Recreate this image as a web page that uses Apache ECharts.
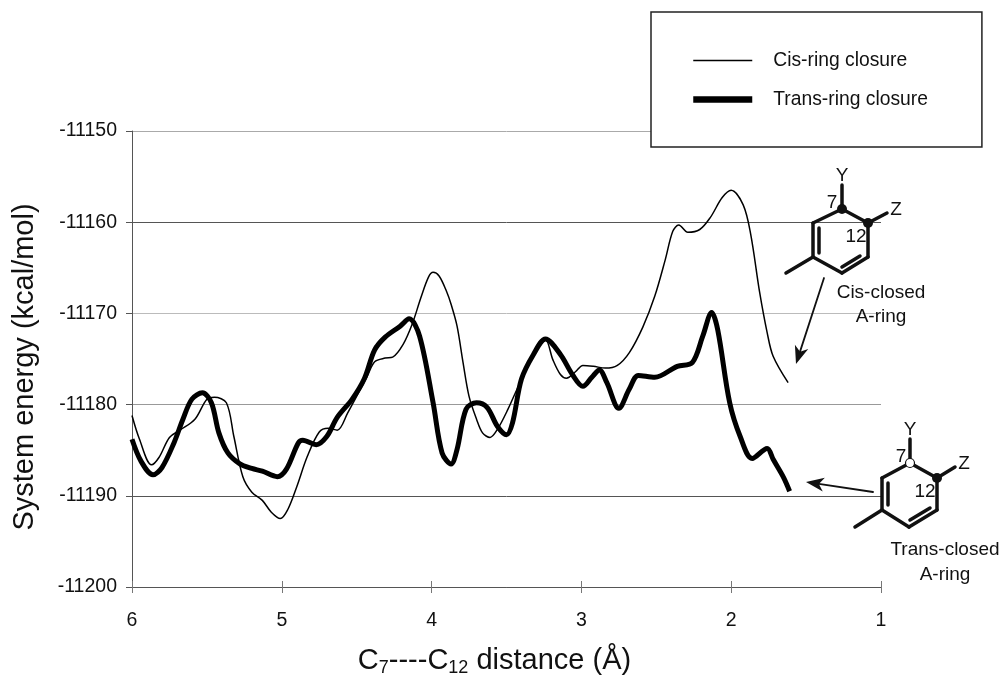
<!DOCTYPE html>
<html><head><meta charset="utf-8">
<style>html,body{margin:0;padding:0;background:#fff}#c{width:1004px;height:677px}</style>
<script src="https://cdn.jsdelivr.net/npm/echarts@6/dist/echarts.min.js"></script>
</head><body><div id="c"></div>
<script>
const seriesNames = ['Cis-ring closure', 'Trans-ring closure'];
const cisDistance = [6.00,5.95,5.87,5.82,5.75,5.68,5.58,5.50,5.45,5.37,5.32,5.26,5.20,5.13,5.07,5.01,4.96,4.90,4.83,4.75,4.69,4.63,4.56,4.43,4.38,4.31,4.26,4.19,4.13,4.07,4.02,3.99,3.95,3.90,3.87,3.83,3.79,3.75,3.70,3.66,3.61,3.56,3.49,3.41,3.32,3.24,3.19,3.14,3.10,3.04,2.99,2.92,2.84,2.76,2.68,2.59,2.51,2.44,2.39,2.35,2.29,2.21,2.14,2.06,2.00,1.92,1.87,1.81,1.76,1.72,1.62];
const cisEnergy = [-11181.2,-11183.8,-11186.6,-11185.8,-11183.6,-11182.8,-11181.6,-11179.4,-11179.2,-11179.8,-11183.5,-11187.9,-11189.6,-11190.5,-11191.8,-11192.5,-11191.5,-11189.0,-11185.7,-11183.0,-11182.6,-11182.8,-11180.9,-11176.9,-11175.3,-11174.9,-11174.8,-11173.4,-11171.2,-11168.2,-11166.0,-11165.5,-11165.9,-11167.6,-11169.0,-11171.4,-11175.4,-11179.1,-11181.6,-11183.1,-11183.6,-11182.7,-11180.5,-11177.6,-11174.7,-11172.9,-11175.1,-11176.7,-11177.1,-11176.4,-11175.7,-11175.8,-11176.0,-11175.7,-11174.3,-11171.5,-11168.1,-11164.1,-11161.0,-11160.3,-11161.1,-11160.8,-11159.5,-11157.3,-11156.5,-11158.1,-11161.3,-11167.7,-11172.1,-11174.7,-11177.6];
const transDistance = [6.00,5.94,5.86,5.80,5.72,5.66,5.60,5.53,5.47,5.42,5.36,5.28,5.20,5.13,5.03,4.97,4.89,4.86,4.77,4.70,4.63,4.53,4.45,4.38,4.31,4.21,4.15,4.08,3.99,3.93,3.87,3.83,3.77,3.70,3.63,3.56,3.50,3.46,3.40,3.32,3.24,3.14,3.06,2.99,2.93,2.88,2.83,2.75,2.68,2.62,2.51,2.36,2.26,2.19,2.13,2.09,2.01,1.94,1.86,1.76,1.72,1.65,1.61];
const transEnergy = [-11183.8,-11186.2,-11187.7,-11186.9,-11184.2,-11181.6,-11179.4,-11178.7,-11179.8,-11183.1,-11185.3,-11186.5,-11187.0,-11187.3,-11187.9,-11187.1,-11184.2,-11183.9,-11184.4,-11183.5,-11181.4,-11179.4,-11177.2,-11174.0,-11172.6,-11171.4,-11170.6,-11172.5,-11179.8,-11185.3,-11186.5,-11184.9,-11180.5,-11179.8,-11180.3,-11182.4,-11183.3,-11182.0,-11177.2,-11174.5,-11172.8,-11174.5,-11176.7,-11178.0,-11177.0,-11176.2,-11177.6,-11180.4,-11178.3,-11176.8,-11177.0,-11175.8,-11175.4,-11172.5,-11169.9,-11171.8,-11179.8,-11183.5,-11185.9,-11184.8,-11186.0,-11188.0,-11189.5];
const zip = (a, b) => a.map((v, i) => [v, b[i]]);

const FONT = '"Liberation Sans", Arial, sans-serif';
const INK = '#111';
const chart = echarts.init(document.getElementById('c'), null, {renderer: 'canvas'});

function seg(x1, y1, x2, y2, w) {
  return {type: 'line', shape: {x1, y1, x2, y2}, style: {stroke: INK, lineWidth: w || 3.5, lineCap: 'round'}, z: 20};
}
function dot(cx, cy, open) {
  return {type: 'circle', shape: {cx, cy, r: open ? 4.5 : 5}, style: {fill: open ? '#fff' : INK, stroke: INK, lineWidth: open ? 1.2 : 0}, z: 21};
}
function txt(x, y, text, size) {
  return {type: 'text', x, y, style: {text, fill: INK, font: (size || 19) + 'px ' + FONT, align: 'center', verticalAlign: 'middle'}, z: 22};
}
function arrow(x1, y1, x2, y2) {
  const a = Math.atan2(y2 - y1, x2 - x1), L = 18, W = 7, N = 13;
  const c = Math.cos(a), s = Math.sin(a);
  const pts = [[x2, y2], [x2 - L * c - W * s, y2 - L * s + W * c], [x2 - N * c, y2 - N * s], [x2 - L * c + W * s, y2 - L * s - W * c]];
  return [seg(x1, y1, x2 - N * c, y2 - N * s, 1.8), {type: 'polygon', shape: {points: pts}, style: {fill: INK}, z: 21}];
}
const cisRing = [
  seg(842,209,868,223), seg(868,223,868,257), seg(868,257,842,273), seg(842,273,813,257), seg(813,257,813,223), seg(813,223,842,209),
  seg(819,228,819,253), seg(842,267,860,256), seg(842,209,842,185), seg(868,223,887,213), seg(813,257,786,273),
  dot(842,209), dot(868,223),
  txt(842,176,'Y'), txt(896,210,'Z'), txt(832,203,'7'), txt(856,237,'12'),
  txt(881,293,'Cis-closed'), txt(881,317,'A-ring')
].concat(arrow(824,278,796,364));
const transRing = [
  seg(910,463,937,478), seg(937,478,937,510), seg(937,510,909,527), seg(909,527,882,510), seg(882,510,882,478), seg(882,478,910,463),
  seg(888,483,888,505), seg(910,520,930,508), seg(910,463,910,439), seg(937,478,955,467), seg(882,510,855,527),
  dot(910,463,true), dot(937,478),
  txt(910,430,'Y'), txt(964,464,'Z'), txt(901,457,'7'), txt(925,492,'12'),
  txt(945,550,'Trans-closed'), txt(945,575,'A-ring')
].concat(arrow(873,492,806,482));

chart.setOption({
  animation: false,
  backgroundColor: '#fff',
  textStyle: {fontFamily: FONT},
  grid: {left: 132, right: 123, top: 131, bottom: 90, containLabel: false, outerBoundsMode: 'none'},
  legend: {
    data: [{name: seriesNames[0], lineStyle: {width: 1.5}}, {name: seriesNames[1], lineStyle: {width: 6.5}}],
    orient: 'vertical', left: 651, top: 12,
    padding: [39, 54, 38, 39], itemWidth: 59, itemHeight: 14, itemGap: 20,
    backgroundColor: '#fff', borderColor: '#222', borderWidth: 1.5, borderRadius: 0,
    itemStyle: {opacity: 0},
    textStyle: {fontFamily: FONT, fontSize: 19.3, color: INK, padding: [0, 0, 0, 16]}
  },
  xAxis: [{
    type: 'value', inverse: true, min: 1, max: 6, interval: 1,
    name: '{a|C}{s|7}{a|----C}{s|12}{a| distance (Å)}',
    nameLocation: 'middle', nameGap: 58,
    nameTextStyle: {padding: [0, 24, 0, 0], rich: {
      a: {fontFamily: FONT, fontSize: 29, color: INK},
      s: {fontFamily: FONT, fontSize: 18, color: INK, padding: [14, 0, 0, 0]}
    }},
    axisLine: {onZero: false, lineStyle: {color: '#555', width: 1}},
    axisTick: {show: true, length: 6, lineStyle: {color: '#777', width: 1}},
    axisLabel: {fontFamily: FONT, fontSize: 19.5, color: INK, margin: 24, formatter: v => String(v)},
    splitLine: {show: false}
  }, {
    type: 'value', inverse: true, min: 1, max: 6, interval: 1, position: 'bottom',
    axisLine: {show: false},
    axisTick: {show: true, inside: true, length: 6, lineStyle: {color: '#777', width: 1}},
    axisLabel: {show: false}, splitLine: {show: false}
  }],
  yAxis: {
    type: 'value', min: -11200, max: -11150, interval: 10,
    name: 'System energy (kcal/mol)', nameLocation: 'middle', nameGap: 93, nameRotate: 90,
    nameTextStyle: {fontFamily: FONT, fontSize: 29, color: INK, padding: [0, 16, 0, 0]},
    axisLine: {show: true, onZero: false, lineStyle: {color: '#555', width: 1}},
    axisTick: {show: true, length: 6, lineStyle: {color: '#555', width: 1}},
    axisLabel: {fontFamily: FONT, fontSize: 19.5, color: INK, margin: 15, formatter: v => String(v)},
    splitLine: {show: true, lineStyle: {width: 1, color: ['#555', '#555', '#999', '#bbb', '#555', '#aaa']}}
  },
  series: [
    {name: seriesNames[0], type: 'line', data: zip(cisDistance, cisEnergy), symbol: 'none', smooth: 0.33, lineStyle: {color: '#000', width: 1.5}, itemStyle: {color: '#000'}, z: 3},
    {name: seriesNames[1], type: 'line', data: zip(transDistance, transEnergy), symbol: 'none', smooth: 0.33, lineStyle: {color: '#000', width: 5}, itemStyle: {color: '#000'}, z: 4}
  ],
  graphic: {elements: cisRing.concat(transRing)}
});
</script></body></html>
